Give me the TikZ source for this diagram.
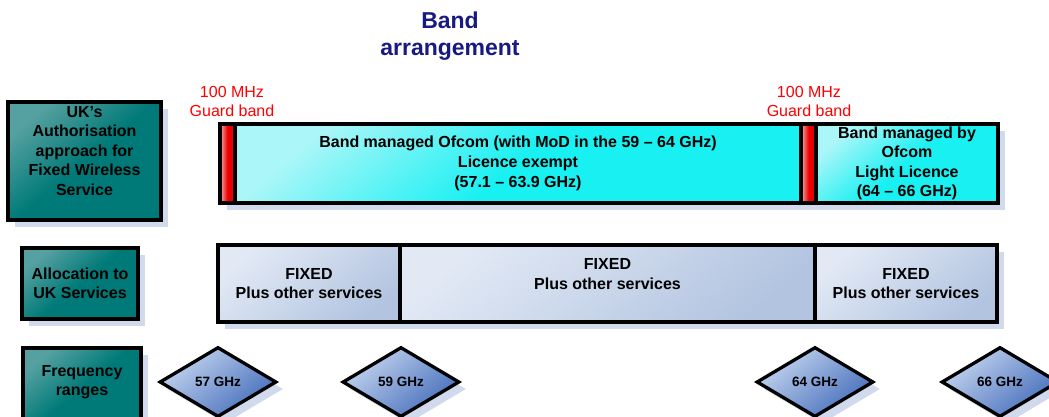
\documentclass[tikz,border=0pt]{standalone}
\usepackage{fontspec}
\setmainfont{Liberation Sans}
\usetikzlibrary{shapes.geometric,shadows}
\definecolor{navyT}{RGB}{25,25,130}
\definecolor{tealL}{RGB}{85,160,160}
\definecolor{tealD}{RGB}{0,122,120}
\definecolor{cyanL}{RGB}{170,246,248}
\definecolor{cyanD}{RGB}{25,240,242}
\definecolor{lavL}{RGB}{226,233,245}
\definecolor{lavD}{RGB}{178,196,224}
\definecolor{diaL}{RGB}{195,212,238}
\definecolor{diaD}{RGB}{70,110,188}
\definecolor{redL}{RGB}{245,175,175}
\definecolor{redD}{RGB}{235,0,0}
\definecolor{shadowc}{RGB}{208,218,236}
\tikzset{
  shad/.style={drop shadow={shadow xshift=7pt,shadow yshift=-7pt,fill=shadowc,opacity=1}},
  boxbase/.style={draw=black, line width=3.3pt, rectangle, inner sep=0pt, shad},
  lbl/.style={boxbase, top color=tealL, bottom color=tealD, middle color=tealD, shading angle=40},
  cyanbox/.style={boxbase, top color=cyanL, bottom color=cyanD, middle color=cyanD, shading angle=40},
  guard/.style={boxbase, left color=redL, right color=redD, middle color=redD},
  alloc/.style={boxbase, top color=lavL, bottom color=lavD, shading angle=40},
  freq/.style={draw=black, line width=3.3pt, shape=diamond, aspect=1.67, minimum width=117pt, minimum height=70pt, inner sep=0pt, top color=diaL, bottom color=diaD, shading angle=40, shad, font=\bfseries\fontsize{13.5}{16}\selectfont},
  txt/.style={align=center, font=\bfseries\fontsize{16}{19.5}\selectfont, inner sep=0pt},
  redtxt/.style={align=center, text=red, font=\fontsize{16}{19}\selectfont, inner sep=0pt},
}
\begin{document}
\begin{tikzpicture}[x=1pt,y=-1pt]
\useasboundingbox (0,0) rectangle (1049,417);
% title
\node[align=center, text=navyT, font=\bfseries\fontsize{23}{27}\selectfont, inner sep=0pt] (title) at (450,36) {Band\\arrangement};
% guard band labels
\node[redtxt] (gl1) at (232,101.5) {100 MHz\\Guard band};
\node[redtxt] (gl2) at (809,101.5) {100 MHz\\Guard band};
% left labels
\node[lbl, minimum width=153pt, minimum height=118pt] (auth) at (84.5,161) {};
\node[txt] (authT) at (84.5,151) {UK’s\\Authorisation\\approach for\\Fixed Wireless\\Service};
\node[lbl, minimum width=116pt, minimum height=71pt, txt] (alloc) at (80,283.5) {Allocation to\\UK Services};
\node[lbl, minimum width=118pt, minimum height=80pt] (freqL) at (82,388) {};
\node[txt] (freqT) at (82,382) {Frequency\\ranges};
% top row (left to right so shadows stay behind neighbours)
\node[guard, minimum width=15pt, minimum height=79pt] (g1) at (227.5,163.5) {};
\node[cyanbox, minimum width=566pt, minimum height=79pt, txt, font=\bfseries\fontsize{16}{20}\selectfont] (main) at (518,163.5) {Band managed Ofcom (with MoD in the 59 – 64 GHz)\\Licence exempt\\(57.1 – 63.9 GHz)};
\node[guard, minimum width=15pt, minimum height=79pt] (g2) at (808.5,163.5) {};
\node[cyanbox, minimum width=182pt, minimum height=79pt, txt] (light) at (907,163.5) {Band managed by\\Ofcom\\Light Licence\\(64 – 66 GHz)};
% middle row
\node[alloc, minimum width=182pt, minimum height=77pt, txt] (fa) at (309,283.5) {FIXED\\Plus other services};
\node[alloc, minimum width=415pt, minimum height=77pt] (fb) at (607.5,283.5) {};
\node[txt] (fbT) at (607.5,274) {FIXED\\Plus other services};
\node[alloc, minimum width=182pt, minimum height=77pt, txt] (fc) at (906,283.5) {FIXED\\Plus other services};
% frequency diamonds
\node[freq] (f57) at (218,382) {57 GHz};
\node[freq] (f59) at (401,382) {59 GHz};
\node[freq] (f64) at (815,382) {64 GHz};
\node[freq] (f66) at (1000,382) {66 GHz};
\end{tikzpicture}
\end{document}
